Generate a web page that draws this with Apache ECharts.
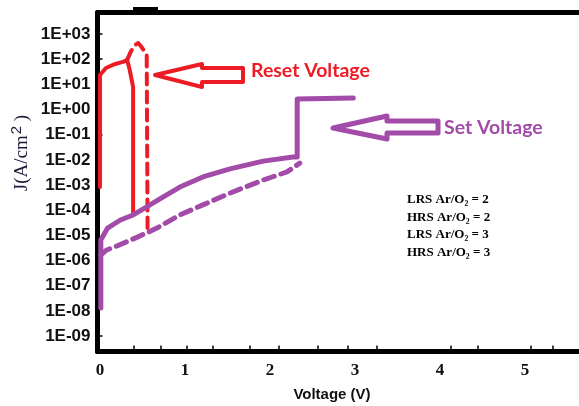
<!DOCTYPE html>
<html lang="en">
<head>
    <meta charset="UTF-8">
    <title>J-V curves</title>
    <script src="https://cdn.jsdelivr.net/npm/echarts@6.0.0/dist/echarts.min.js"></script>
    <style>
        html, body { margin: 0; padding: 0; background: #fff; }
        #main { width: 579px; height: 406px; }
    </style>
</head>
<body>
<div id="main"></div>
<script>
    // voltage (V) and log10(J)
    const lrs2V    = [0, 0, 0.07, 0.18, 0.27, 0.32, 0.35, 0.39, 0.39];
    const lrs2LogJ = [-3.08, 1.37, 1.65, 1.81, 1.89, 1.97, 1.57, 0.89, -4.19];

    const hrs2V    = [0.32, 0.36, 0.41, 0.45, 0.49, 0.55, 0.56];
    const hrs2LogJ = [1.97, 2.28, 2.56, 2.64, 2.48, 2.17, -4.71];

    const lrs3V    = [0.01, 0.01, 0.09, 0.24, 0.39, 0.55, 0.74, 0.94, 1.21, 1.53, 1.92, 2.27, 2.32, 2.32, 2.98];
    const lrs3LogJ = [-7.89, -5.18, -4.71, -4.39, -4.19, -3.87, -3.48, -3.08, -2.68, -2.36, -2.05, -1.89, -1.89, 0.42, 0.46];

    const hrs3V    = [0.01, 0.08, 0.2, 0.44, 0.67, 0.94, 1.21, 1.53, 1.92, 2.2, 2.35];
    const hrs3LogJ = [-5.78, -5.58, -5.42, -5.07, -4.71, -4.19, -3.79, -3.32, -2.80, -2.48, -2.13];

    const seriesNames = ['LRS Ar/O₂ = 2', 'HRS Ar/O₂ = 2', 'LRS Ar/O₂ = 3', 'HRS Ar/O₂ = 3'];

    // tick labels
    const xLabelValues = [0, 1, 2, 3, 4, 5];
    const xTickValues = [0.4, 0.71, 1.02, 1.33, 1.76, 2.1, 2.56, 2.92, 3.26, 4.13, 4.44, 5.07, 5.33];
    const yLabelValues = [-9, -8, -7, -6, -5, -4, -3, -2, -1, 0, 1, 2, 3];
    const yTickValues = [-9, -1, 2, 3];

    const RED = '#ed1c24';
    const PURPLE = '#a24ba8';

    const chart = echarts.init(document.getElementById('main'));

    function pairs(xs, ys) {
        return xs.map((x, i) => [x, ys[i]]);
    }

    function expLabel(v) {
        const n = Math.round(v);
        const s = String(Math.abs(n)).padStart(2, '0');
        return '1E' + (n < 0 ? '-' : '+') + s;
    }

    function lineSeries(name, data, color, width, dashed) {
        return {
            name: name,
            type: 'line',
            data: data,
            showSymbol: false,
            symbol: 'none',
            lineStyle: {
                color: color,
                width: width,
                type: dashed ? [11, 7] : 'solid',
                cap: 'round',
                join: 'round'
            },
            itemStyle: { color: color },
            z: 3
        };
    }

    const option = {
        animation: false,
        backgroundColor: '#fff',
        grid: { left: 97.5, right: 0, top: 12.5, bottom: 54.5 },
        legend: {
            orient: 'vertical',
            left: 397,
            top: 188,
            itemGap: 4,
            itemWidth: 0,
            itemHeight: 14,
            icon: 'none',
            selectedMode: false,
            data: seriesNames,
            textStyle: {
                fontFamily: 'Liberation Serif',
                fontWeight: 'bold',
                fontSize: 13,
                color: '#000'
            }
        },
        xAxis: [
            {
                type: 'value',
                min: -0.029,
                max: 5.635,
                axisLine: { onZero: false, lineStyle: { color: '#000', width: 5 } },
                splitLine: { show: false },
                axisTick: {
                    inside: true,
                    length: 6,
                    customValues: xTickValues,
                    lineStyle: { color: '#000', width: 1.5 }
                },
                axisLabel: {
                    customValues: xLabelValues,
                    margin: 11,
                    fontFamily: 'Liberation Serif',
                    fontWeight: 'bold',
                    fontSize: 17,
                    color: '#111'
                }
            },
            {
                type: 'value',
                position: 'top',
                min: -0.029,
                max: 5.635,
                axisLine: { show: true, onZero: false, lineStyle: { color: '#000', width: 5 } },
                axisTick: { show: false },
                axisLabel: { show: false },
                splitLine: { show: false }
            }
        ],
        yAxis: {
            type: 'value',
            min: -9.614,
            max: 3.854,
            axisLine: { show: true, onZero: false, lineStyle: { color: '#000', width: 5 } },
            splitLine: { show: false },
            axisTick: {
                inside: true,
                length: 5,
                customValues: yTickValues,
                lineStyle: { color: '#000', width: 1.5 }
            },
            axisLabel: {
                customValues: yLabelValues,
                margin: 7,
                formatter: expLabel,
                fontFamily: 'Liberation Sans',
                fontWeight: 'bold',
                fontSize: 17,
                color: '#111'
            }
        },
        graphic: [
            // y axis title
            {
                type: 'text',
                x: 22,
                y: 153,
                rotation: Math.PI / 2,
                style: {
                    text: 'J(A/cm{sup|2} )',
                    fontFamily: 'Liberation Serif',
                    fontSize: 19,
                    fill: '#1a1a3a',
                    align: 'center',
                    verticalAlign: 'middle',
                    rich: {
                        sup: { fontSize: 15, padding: [0, 0, 11, 1], fill: '#1a1a3a' }
                    }
                }
            },
            // x axis title
            {
                type: 'text',
                x: 332,
                y: 395,
                style: {
                    text: 'Voltage (V)',
                    fontFamily: 'Liberation Sans',
                    fontWeight: 'bold',
                    fontSize: 15,
                    fill: '#111',
                    align: 'center',
                    verticalAlign: 'middle'
                }
            },
            // small blob on the top border
            {
                type: 'rect',
                shape: { x: 133, y: 7, width: 25, height: 4 },
                style: { fill: '#000' }
            },
            // reset arrow
            {
                type: 'polygon',
                shape: { points: [[155, 75], [202, 64], [202, 68], [243, 68], [243, 82], [202, 82], [202, 87]] },
                style: { fill: '#fff', stroke: RED, lineWidth: 4, lineJoin: 'round' },
                z: 10
            },
            {
                type: 'text',
                x: 251,
                y: 71,
                style: {
                    text: 'Reset Voltage',
                    fontFamily: 'Lato',
                    fontWeight: 'bold',
                    fontSize: 19.5,
                    fill: RED,
                    verticalAlign: 'middle'
                },
                z: 10
            },
            // set arrow
            {
                type: 'polygon',
                shape: { points: [[333, 128], [387, 116], [387, 121], [438, 121], [438, 133], [387, 133], [387, 139]] },
                style: { fill: '#fff', stroke: PURPLE, lineWidth: 5, lineJoin: 'round' },
                z: 10
            },
            {
                type: 'text',
                x: 444,
                y: 128,
                style: {
                    text: 'Set Voltage',
                    fontFamily: 'Lato',
                    fontWeight: 'bold',
                    fontSize: 19.5,
                    fill: PURPLE,
                    verticalAlign: 'middle'
                },
                z: 10
            }
        ],
        series: [
            lineSeries(seriesNames[0], pairs(lrs2V, lrs2LogJ), RED, 4, false),
            lineSeries(seriesNames[1], pairs(hrs2V, hrs2LogJ), RED, 4, true),
            lineSeries(seriesNames[2], pairs(lrs3V, lrs3LogJ), PURPLE, 5, false),
            lineSeries(seriesNames[3], pairs(hrs3V, hrs3LogJ), PURPLE, 5, true)
        ]
    };

    chart.setOption(option);
</script>
</body>
</html>
